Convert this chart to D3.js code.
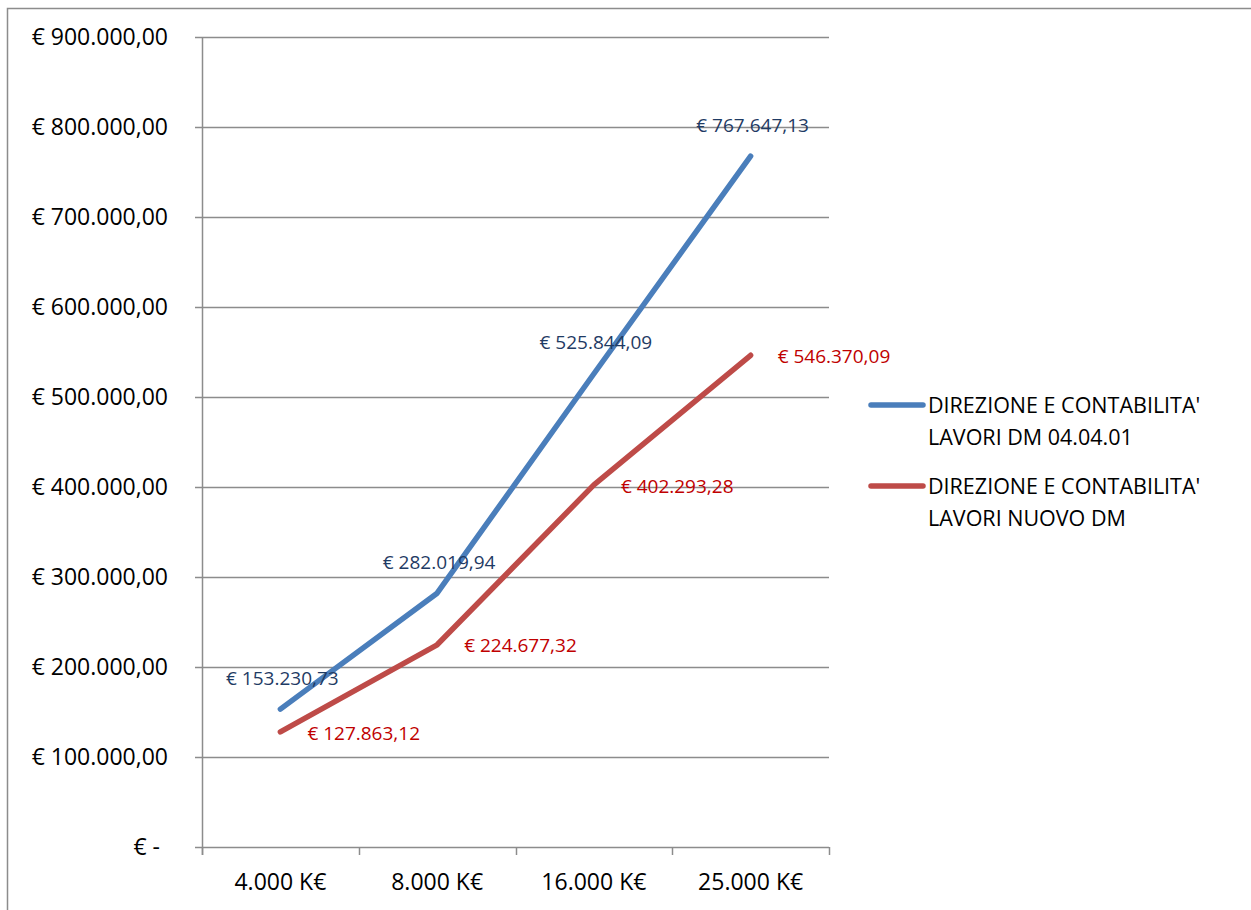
<!DOCTYPE html>
<html>
<head>
<meta charset="utf-8">
<script src="https://cdn.jsdelivr.net/npm/d3@7"></script>
<style>
  html, body { margin: 0; padding: 0; background: #fff; }
  svg { display: block; }
  text { font-family: "Open Sans", "Liberation Sans", sans-serif; }
</style>
</head>
<body>
<svg id="chart" width="1251" height="910"></svg>
<script>
const categories = ["4.000 K€", "8.000 K€", "16.000 K€", "25.000 K€"];
const seriesNames = ["DIREZIONE E CONTABILITA' LAVORI DM 04.04.01", "DIREZIONE E CONTABILITA' LAVORI NUOVO DM"];
const legendLines1 = ["DIREZIONE E CONTABILITA'", "LAVORI DM 04.04.01"];
const legendLines2 = ["DIREZIONE E CONTABILITA'", "LAVORI NUOVO DM"];
const valuesOld = [153230.73, 282019.94, 525844.09, 767647.13];
const valuesNew = [127863.12, 224677.32, 402293.28, 546370.09];
const yTicks = [0, 100000, 200000, 300000, 400000, 500000, 600000, 700000, 800000, 900000];

const svg = d3.select("#chart");
const m = { left: 202, right: 829, top: 37, bottom: 847 };

svg.append("rect").attr("x", 7.5).attr("y", 8.5).attr("width", 1300).attr("height", 1000)
  .attr("fill", "#fff").attr("stroke", "#8c8c8c").attr("stroke-width", 1.5);

const x = d3.scaleBand().domain(categories).range([m.left, m.right]);
const y = d3.scaleLinear().domain([0, 900000]).range([m.bottom, m.top]);

const loc = d3.formatLocale({ decimal: ",", thousands: ".", grouping: [3], currency: ["€ ", ""] });
const fmt2 = loc.format(",.2f");
const yLabel = v => v === 0 ? "€ -" : "€ " + fmt2(v);

// gridlines
svg.append("g").selectAll("line").data(yTicks).join("line")
  .attr("x1", m.left - 7).attr("x2", m.right)
  .attr("y1", d => Math.round(y(d)) + 0.5).attr("y2", d => Math.round(y(d)) + 0.5)
  .attr("stroke", "#8c8c8c").attr("stroke-width", 1.5);

// y axis line
svg.append("line").attr("x1", m.left + 0.5).attr("x2", m.left + 0.5)
  .attr("y1", m.top).attr("y2", m.bottom + 8).attr("stroke", "#8c8c8c").attr("stroke-width", 1.5);

// x tick marks
const xb = categories.map(c => x(c)).concat([m.right]);
svg.append("g").selectAll("line").data(xb).join("line")
  .attr("x1", d => Math.round(d) + 0.5).attr("x2", d => Math.round(d) + 0.5)
  .attr("y1", m.bottom).attr("y2", m.bottom + 8)
  .attr("stroke", "#8c8c8c").attr("stroke-width", 1.5);

// y labels
svg.append("g").selectAll("text").data(yTicks).join("text")
  .attr("x", d => d === 0 ? 160 : 168).attr("y", d => y(d)).attr("dy", "0.35em")
  .attr("text-anchor", "end").attr("font-size", 23).attr("fill", "#000")
  .text(yLabel);

// x labels
svg.append("g").selectAll("text").data(categories).join("text")
  .attr("x", d => x(d) + x.bandwidth() / 2).attr("y", 882).attr("dy", "0.35em")
  .attr("text-anchor", "middle").attr("font-size", 23).attr("fill", "#000")
  .text(d => d);

const line = d3.line().x((d, i) => x(categories[i]) + x.bandwidth() / 2).y(d => y(d));

svg.append("path").datum(valuesOld).attr("d", line).attr("fill", "none")
  .attr("stroke", "#4A7EBB").attr("stroke-width", 5.5).attr("stroke-linecap", "round").attr("stroke-linejoin", "round");
svg.append("path").datum(valuesNew).attr("d", line).attr("fill", "none")
  .attr("stroke", "#BE4B48").attr("stroke-width", 5.5).attr("stroke-linecap", "round").attr("stroke-linejoin", "round");

// data labels
svg.append("g").selectAll("text").data(valuesOld).join("text")
  .attr("x", (d, i) => x(categories[i]) + x.bandwidth() / 2 + 2).attr("y", d => y(d) - 31)
  .attr("dy", "0.35em").attr("text-anchor", "middle").attr("font-size", 19).attr("fill", "#1F3B64")
  .text(d => "€ " + fmt2(d));
svg.append("g").selectAll("text").data(valuesNew).join("text")
  .attr("x", (d, i) => x(categories[i]) + x.bandwidth() / 2 + 27).attr("y", d => y(d) + 1)
  .attr("dy", "0.35em").attr("text-anchor", "start").attr("font-size", 19).attr("fill", "#C00000")
  .text(d => "€ " + fmt2(d));

// legend
const legend = [
  { lines: legendLines1, color: "#4A7EBB", y: 405 },
  { lines: legendLines2, color: "#BE4B48", y: 486 }
];
const lg = svg.append("g").selectAll("g").data(legend).join("g");
lg.append("line").attr("x1", 871).attr("x2", 923).attr("y1", d => d.y).attr("y2", d => d.y)
  .attr("stroke", d => d.color).attr("stroke-width", 5.5).attr("stroke-linecap", "round");
lg.each(function(d) {
  d3.select(this).selectAll("text").data(d.lines).join("text")
    .attr("x", 928).attr("y", (t, i) => d.y + i * 32).attr("dy", "0.35em")
    .attr("font-size", 21.5).attr("fill", "#000").text(t => t);
});
</script>
</body>
</html>
